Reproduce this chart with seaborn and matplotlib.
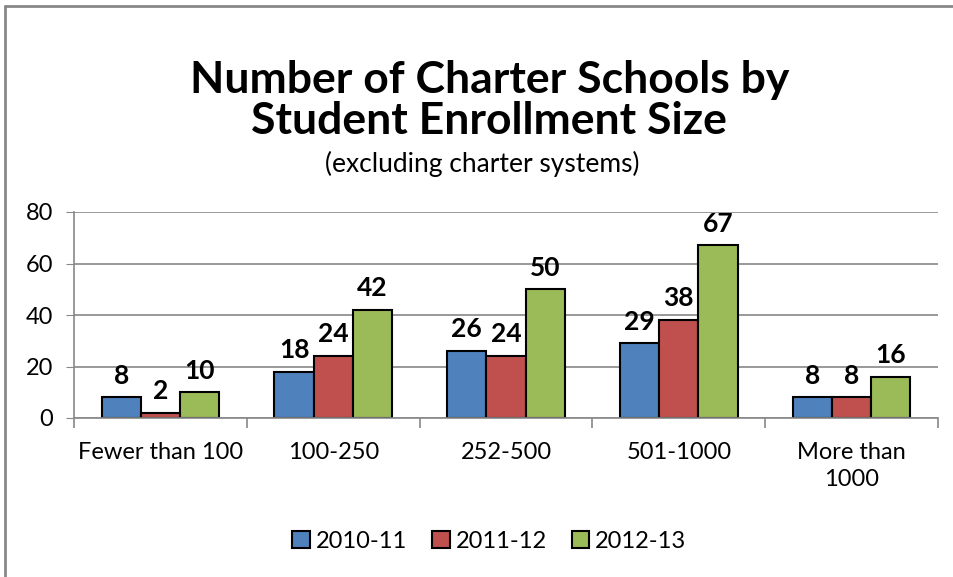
import matplotlib
matplotlib.use("Agg")
import matplotlib.pyplot as plt
import seaborn as sns
import pandas as pd
from matplotlib.patches import Patch
from matplotlib.lines import Line2D

categories = ["Fewer than 100", "100-250", "252-500", "501-1000", "More than\n1000"]
years = ["2010-11", "2011-12", "2012-13"]
v_2010 = [8, 18, 26, 29, 8]
v_2011 = [2, 24, 24, 38, 8]
v_2012 = [10, 42, 50, 67, 16]
colors = ["#4F81BD", "#C0504D", "#9BBB59"]
yticks = [0, 20, 40, 60, 80]

sns.set_style("white")
plt.rcParams["font.family"] = ["Lato", "DejaVu Sans"]
plt.rcParams["text.color"] = "black"
plt.rcParams["xtick.color"] = "black"
plt.rcParams["ytick.color"] = "black"

df = pd.DataFrame({
    "cat": categories * 3,
    "year": [years[0]] * 5 + [years[1]] * 5 + [years[2]] * 5,
    "val": v_2010 + v_2011 + v_2012,
})

fig = plt.figure(figsize=(9.54, 5.77), dpi=100)
ax = fig.add_axes([74 / 954, 1 - 418 / 577, 864 / 954, 206 / 577])

sns.barplot(data=df, x="cat", y="val", hue="year", palette=colors, order=categories,
            hue_order=years, width=0.68, gap=0, edgecolor="black", linewidth=1.5,
            saturation=1, legend=False, ax=ax, errorbar=None)

ax.set_xlim(-0.5, 4.5)
ax.set_ylim(0, 80)
ax.set_yticks(yticks)
ax.set_xlabel("")
ax.set_ylabel("")
for s in ["top", "right"]:
    ax.spines[s].set_visible(False)
for s in ["left", "bottom"]:
    ax.spines[s].set_color("#888888")
    ax.spines[s].set_linewidth(1.2)
ax.grid(axis="y", color="#888888", linewidth=1.2)
ax.set_axisbelow(True)
ax.tick_params(axis="y", length=6, color="#888888", labelcolor="black", labelsize=17, pad=9, left=True)
ax.tick_params(axis="x", length=0, labelcolor="black", labelsize=17, pad=17)
ax.set_xticks(range(5))
ax.set_xticklabels(categories, linespacing=1.35)
ax.set_xticks([i + 0.5 for i in range(-1, 5)], minor=True)
ax.tick_params(axis="x", which="minor", length=7, color="#888888", width=1.2, bottom=True)

for cont in ax.containers:
    ax.bar_label(cont, fontsize=19, fontweight="bold", padding=7, color="black")

fig.text(0.513, 1 - 80 / 577, "Number of Charter Schools by", ha="center", va="center",
         fontsize=32, fontweight="bold", color="black")
fig.text(0.513, 1 - 121 / 577, "Student Enrollment Size", ha="center", va="center",
         fontsize=32, fontweight="bold", color="black")
fig.text(0.506, 1 - 164 / 577, "(excluding charter systems)", ha="center", va="center",
         fontsize=19, color="black")

handles = [Patch(facecolor=c, edgecolor="black", linewidth=1.5) for c in colors]
leg = fig.legend(handles, years, loc="center", bbox_to_anchor=(0.513, 1 - 541 / 577), ncol=3,
                 frameon=False, fontsize=17, handlelength=0.75, handleheight=0.75,
                 handletextpad=0.25, columnspacing=1.05)
for t in leg.get_texts():
    t.set_color("black")

# outer border (left and top)
fig.add_artist(Line2D([5 / 954, 5 / 954], [0, 1 - 6 / 577], color="#888888", linewidth=2,
                      transform=fig.transFigure))
fig.add_artist(Line2D([5 / 954, 1], [1 - 6 / 577, 1 - 6 / 577], color="#888888", linewidth=2,
                      transform=fig.transFigure))

fig.savefig("out.png", dpi=100)
